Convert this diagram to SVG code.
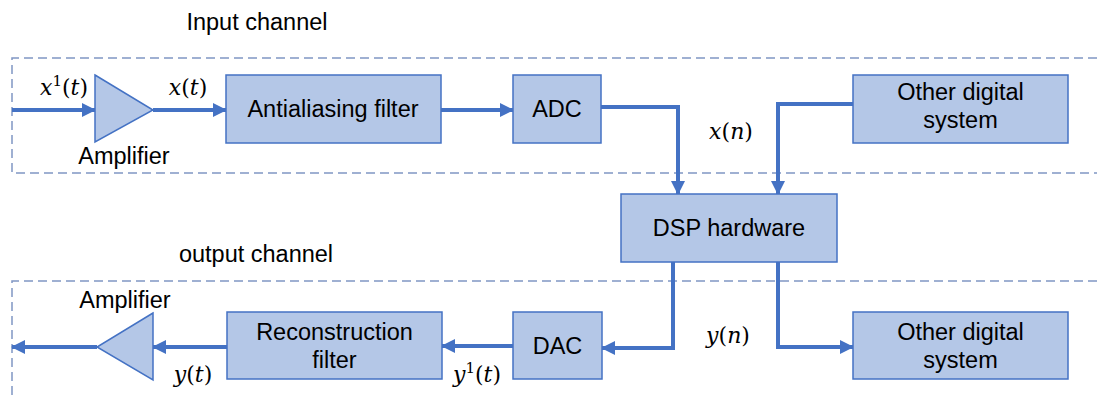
<svg xmlns="http://www.w3.org/2000/svg" width="1097" height="396" viewBox="0 0 1097 396">
  <style>
    .box { fill: #b4c7e7; stroke: #4472c4; stroke-width: 1.5; }
    .amp { fill: #b4c7e7; stroke: #4472c4; stroke-width: 1.5; stroke-linejoin: miter; }
    .lbl { font-family: "Liberation Sans", Arial, sans-serif; font-size: 23.5px; fill: #000; text-anchor: middle; }
    .math { font-family: "DejaVu Serif", "Liberation Serif", serif; font-size: 22px; fill: #000; text-anchor: middle; }
    .math .it { font-style: italic; }
    .wire { fill: none; stroke: #4472c4; stroke-width: 4; stroke-linejoin: miter; }
    .frame { fill: none; stroke: #8096c4; stroke-width: 1.5; stroke-dasharray: 9 5; }
  </style>
  <defs>
    <marker id="arrow" markerUnits="userSpaceOnUse" markerWidth="14" markerHeight="14" viewBox="0 0 14 14" refX="13" refY="7" orient="auto">
      <path d="M0,0 L14,7 L0,14 Z" fill="#4472c4"/>
    </marker>
  </defs>

  <rect width="1097" height="396" fill="#ffffff"/>

  <!-- channel frames -->
  <g id="frames">
    <path class="frame" d="M1097,58 H12 V173 H1097"/>
    <path class="frame" d="M1097,281 H12 V396"/>
    <text class="lbl" x="257" y="30">Input channel</text>
    <text class="lbl" x="256" y="262">output channel</text>
  </g>

  <!-- connectors -->
  <g id="connectors">
    <line class="wire" x1="12" y1="110" x2="95" y2="110" marker-end="url(#arrow)"/>
    <line class="wire" x1="153" y1="110" x2="226" y2="110" marker-end="url(#arrow)"/>
    <line class="wire" x1="441" y1="110" x2="513" y2="110" marker-end="url(#arrow)"/>
    <polyline class="wire" points="601,107 678,107 678,194" marker-end="url(#arrow)"/>
    <polyline class="wire" points="853,104 778,104 778,194" marker-end="url(#arrow)"/>
    <polyline class="wire" points="673,262 673,348 602,348" marker-end="url(#arrow)"/>
    <polyline class="wire" points="778,262 778,347 853,347" marker-end="url(#arrow)"/>
    <line class="wire" x1="513" y1="346" x2="442" y2="346" marker-end="url(#arrow)"/>
    <line class="wire" x1="227" y1="347" x2="153" y2="347" marker-end="url(#arrow)"/>
    <line class="wire" x1="97" y1="347" x2="12" y2="347" marker-end="url(#arrow)"/>
  </g>

  <!-- signal labels -->
  <g id="signals">
    <text class="math" x="64" y="95"><tspan class="it">x</tspan><tspan font-size="15" dy="-9">1</tspan><tspan dy="9">(</tspan><tspan class="it">t</tspan>)</text>
    <text class="math" x="188" y="95"><tspan class="it">x</tspan>(<tspan class="it">t</tspan>)</text>
    <text class="math" x="731" y="139"><tspan class="it">x</tspan>(<tspan class="it">n</tspan>)</text>
    <text class="math" x="728" y="343"><tspan class="it">y</tspan>(<tspan class="it">n</tspan>)</text>
    <text class="math" x="477" y="382"><tspan class="it">y</tspan><tspan font-size="15" dy="-9">1</tspan><tspan dy="9">(</tspan><tspan class="it">t</tspan>)</text>
    <text class="math" x="193" y="382"><tspan class="it">y</tspan>(<tspan class="it">t</tspan>)</text>
  </g>

  <g id="amp-in">
    <polygon class="amp" points="95,75 153,110 95,142"/>
    <text class="lbl" x="124" y="164">Amplifier</text>
  </g>

  <g id="antialiasing-filter">
    <rect class="box" x="226" y="75" width="215" height="68"/>
    <text class="lbl" x="333" y="117">Antialiasing filter</text>
  </g>

  <g id="adc">
    <rect class="box" x="513" y="75" width="88" height="68"/>
    <text class="lbl" x="557" y="117">ADC</text>
  </g>

  <g id="other-digital-in">
    <rect class="box" x="853" y="75" width="215" height="68"/>
    <text class="lbl" x="960.5" y="100">Other digital</text>
    <text class="lbl" x="960.5" y="128">system</text>
  </g>

  <g id="dsp-hardware">
    <rect class="box" x="621" y="194" width="216" height="68"/>
    <text class="lbl" x="729" y="236">DSP hardware</text>
  </g>

  <g id="dac">
    <rect class="box" x="513" y="312" width="89" height="67"/>
    <text class="lbl" x="557.5" y="354">DAC</text>
  </g>

  <g id="reconstruction-filter">
    <rect class="box" x="227" y="312" width="215" height="67"/>
    <text class="lbl" x="334.5" y="340">Reconstruction</text>
    <text class="lbl" x="334.5" y="368">filter</text>
  </g>

  <g id="other-digital-out">
    <rect class="box" x="853" y="312" width="215" height="67"/>
    <text class="lbl" x="960.5" y="340">Other digital</text>
    <text class="lbl" x="960.5" y="368">system</text>
  </g>

  <g id="amp-out">
    <polygon class="amp" points="153,313 97,347 153,380"/>
    <text class="lbl" x="125" y="308">Amplifier</text>
  </g>
</svg>
